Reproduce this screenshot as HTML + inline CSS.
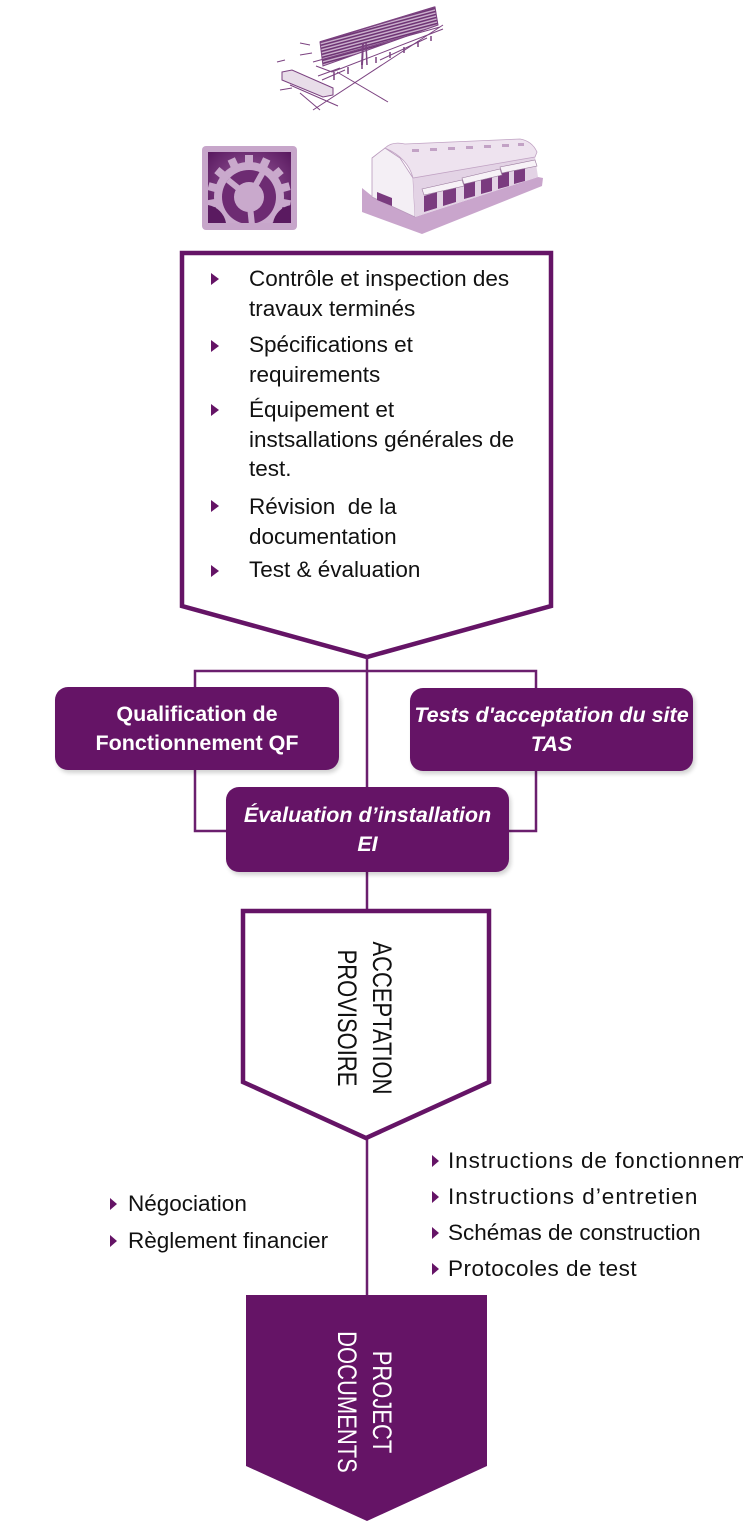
<!DOCTYPE html>
<html><head><meta charset="utf-8">
<style>
html,body{margin:0;padding:0;background:#fff;}
body{width:743px;height:1524px;position:relative;overflow:hidden;font-family:"Liberation Sans",sans-serif;}
svg.bg{position:absolute;left:0;top:0;}
.t{position:absolute;font-size:22.5px;line-height:30px;color:#111;white-space:nowrap;}
.clip{position:absolute;left:448px;top:1146px;width:295px;height:32px;overflow:hidden;}
.clip .t{left:0;top:0;}
.box{position:absolute;background:#651466;border-radius:13px;color:#fff;font-weight:bold;font-size:21.5px;line-height:29px;text-align:center;display:flex;align-items:center;justify-content:center;box-shadow:2px 3px 4px rgba(0,0,0,0.18);white-space:nowrap;}
.box.i{font-style:italic;}
</style></head><body>
<svg class="bg" width="743" height="1524" viewBox="0 0 743 1524" xmlns="http://www.w3.org/2000/svg">
<defs>
<radialGradient id="gbg" cx="50%" cy="45%" r="65%">
<stop offset="0" stop-color="#9a5d9e"/><stop offset="1" stop-color="#5a1a60"/>
</radialGradient>
<clipPath id="gclip"><rect x="208" y="152" width="83" height="71"/></clipPath>
<pattern id="hatch" width="3" height="3" patternUnits="userSpaceOnUse" patternTransform="rotate(75)">
<rect width="3" height="3" fill="#cdb3cf"/><rect width="1.6" height="3" fill="#6e3474"/>
</pattern>
</defs>

<!-- solar tracker sketch -->
<g stroke="#7b4280" stroke-width="1" fill="none">
<polygon points="320,42 435,7 438,25 323,66" fill="url(#hatch)"/>
<line x1="320" y1="42" x2="435" y2="7" stroke-width="1.5"/>
<line x1="313" y1="62" x2="440" y2="27"/>
<line x1="332" y1="72" x2="443" y2="29"/>
<line x1="316" y1="66" x2="332" y2="72"/>
<line x1="313" y1="110" x2="443" y2="25"/>
<line x1="337" y1="72" x2="388" y2="102"/>
<line x1="380" y1="60" x2="427" y2="38"/>
<line x1="300" y1="43" x2="310" y2="45"/>
<line x1="300" y1="55" x2="312" y2="53"/>
<line x1="277" y1="62" x2="285" y2="60"/>
<line x1="280" y1="90" x2="292" y2="88"/>
<polygon points="282,72 292,70 333,88 333,95 323,97 282,80" fill="#e8dde9"/>
<line x1="290" y1="85" x2="338" y2="106"/>
<line x1="300" y1="93" x2="320" y2="110"/>
<line x1="318" y1="76" x2="340" y2="68"/>
<line x1="322" y1="80" x2="345" y2="70"/>
<g stroke-width="1.5">
<line x1="334" y1="72" x2="334" y2="80"/>
<line x1="348" y1="67" x2="348" y2="74"/>
<line x1="362" y1="62" x2="362" y2="69"/>
<line x1="376" y1="57" x2="376" y2="63"/>
<line x1="390" y1="52" x2="390" y2="58"/>
<line x1="404" y1="47" x2="404" y2="53"/>
<line x1="418" y1="41" x2="418" y2="47"/>
<line x1="431" y1="36" x2="431" y2="41"/>
</g>
<line x1="363" y1="43" x2="362" y2="65" stroke-width="2"/>
<line x1="366" y1="43" x2="367" y2="65" stroke-width="1.5"/>
</g>

<!-- gear icon -->
<rect x="202" y="146" width="95" height="84" rx="4" fill="#c7a6ca"/>
<rect x="208" y="152" width="83" height="71" fill="url(#gbg)"/>
<g clip-path="url(#gclip)">
<g fill="#c9a9cc">
<circle cx="249" cy="197" r="35"/>
<g transform="translate(249,197)">
<rect x="-4" y="-42" width="8" height="10" transform="rotate(0)"/>
<rect x="-4" y="-42" width="8" height="10" transform="rotate(25)"/>
<rect x="-4" y="-42" width="8" height="10" transform="rotate(50)"/>
<rect x="-4" y="-42" width="8" height="10" transform="rotate(75)"/>
<rect x="-4" y="-42" width="8" height="10" transform="rotate(100)"/>
<rect x="-4" y="-42" width="8" height="10" transform="rotate(125)"/>
<rect x="-4" y="-42" width="8" height="10" transform="rotate(-25)"/>
<rect x="-4" y="-42" width="8" height="10" transform="rotate(-50)"/>
<rect x="-4" y="-42" width="8" height="10" transform="rotate(-75)"/>
<rect x="-4" y="-42" width="8" height="10" transform="rotate(-100)"/>
<rect x="-4" y="-42" width="8" height="10" transform="rotate(-125)"/>
</g>
</g>
<circle cx="249" cy="197" r="27" fill="#6d2b72"/>
<g stroke="#c9a9cc" stroke-width="6">
<line x1="249" y1="197" x2="228" y2="180"/>
<line x1="249" y1="197" x2="263" y2="172"/>
<line x1="249" y1="197" x2="252" y2="225"/>
</g>
<circle cx="249" cy="197" r="15" fill="#c9a9cc"/>
<path d="M208,223 L208,205 A22,22 0 0 1 226,223 Z" fill="#5a1a60"/>
<path d="M291,223 L291,205 A22,22 0 0 0 273,223 Z" fill="#5a1a60"/>
</g>

<!-- building -->
<polygon points="362,188 372,196 415,217 538,177 543,178 542,186 422,234 362,212" fill="#c9a5cc"/>
<polygon points="372,158 385,148 400,158 413,178 415,217 372,197" fill="#f4eff5" stroke="#b898bb" stroke-width="0.8"/>
<polygon points="413,178 535,157 538,177 415,217" fill="#e3d3e5"/>
<path d="M385,148 Q392,141 405,144 L520,139 Q532,141 537,152 L535,157 L413,178 Q408,158 385,148 Z" fill="#eee3ef" stroke="#c0a2c3" stroke-width="0.8"/>
<g fill="#c2a2c5">
<rect x="412" y="149" width="7" height="3"/><rect x="430" y="148" width="7" height="3"/><rect x="448" y="147" width="7" height="3"/><rect x="466" y="146" width="7" height="3"/><rect x="484" y="145" width="7" height="3"/><rect x="502" y="144" width="7" height="3"/><rect x="518" y="143" width="6" height="3"/>
</g>
<g fill="#7a3b7f">
<polygon points="424,196 437,192 437,208 424,212"/>
<polygon points="443,190 456,187 456,202 443,206"/>
<polygon points="464,184 475,181 475,196 464,199"/>
<polygon points="481,179 492,176 492,191 481,194"/>
<polygon points="498,174 509,171 509,186 498,189"/>
<polygon points="514,169 525,166 525,181 514,184"/>
<polygon points="377,192 392,198 392,206 377,200"/>
</g>
<g fill="#f7f2f7" stroke="#9a7a9d" stroke-width="0.6">
<polygon points="422,189 462,180 464,186 424,195"/>
<polygon points="462,178 500,169 502,175 464,184"/>
<polygon points="500,167 535,160 537,166 502,173"/>
</g>

<!-- top pentagon -->
<polygon points="182,253 551,253 551,606 367,657 182,606" fill="#fff" stroke="#651466" stroke-width="4.5" stroke-linejoin="miter"/>
<g fill="#651466">
<polygon points="211,273 219,279 211,285"/>
<polygon points="211,340 219,346 211,352"/>
<polygon points="211,404 219,410 211,416"/>
<polygon points="211,500 219,506 211,512"/>
<polygon points="211,565 219,571 211,577"/>
</g>

<!-- connectors -->
<g stroke="#6b1f6e" stroke-width="2.5" fill="none">
<line x1="367" y1="657" x2="367" y2="790"/>
<polyline points="195,690 195,671 536,671 536,690"/>
<polyline points="195,768 195,831 228,831"/>
<polyline points="536,768 536,831 505,831"/>
<line x1="367" y1="870" x2="367" y2="912"/>
<line x1="367" y1="1138" x2="367" y2="1296"/>
</g>

<!-- acceptance pentagon -->
<polygon points="243,911 489,911 489,1082 366,1138 243,1082" fill="#fff" stroke="#651466" stroke-width="4.5"/>
<g font-family="Liberation Sans, sans-serif" font-size="22" fill="#111" text-anchor="middle">
<text transform="translate(373,1018) rotate(90) scale(1,1.22)">ACCEPTATION</text>
<text transform="translate(338,1018) rotate(90) scale(1,1.22)">PROVISOIRE</text>
</g>

<!-- bottom bullets -->
<g fill="#651466">
<polygon points="110,1198 117,1204 110,1210"/>
<polygon points="110,1235 117,1241 110,1247"/>
<polygon points="432,1155 439,1161 432,1167"/>
<polygon points="432,1191 439,1197 432,1203"/>
<polygon points="432,1227 439,1233 432,1239"/>
<polygon points="432,1263 439,1269 432,1275"/>
</g>

<!-- project documents -->
<polygon points="246,1295 487,1295 487,1466 367,1521 246,1466" fill="#651466"/>
<g font-family="Liberation Sans, sans-serif" font-size="22" fill="#fff" text-anchor="middle">
<text transform="translate(373,1402) rotate(90) scale(1,1.22)">PROJECT</text>
<text transform="translate(338,1402) rotate(90) scale(1,1.22)">DOCUMENTS</text>
</g>
</svg>

<!-- top box text -->
<div class="t" style="left:249px;top:264px;">Contrôle et inspection des</div>
<div class="t" style="left:249px;top:294px;">travaux terminés</div>
<div class="t" style="left:249px;top:330px;">Spécifications et</div>
<div class="t" style="left:249px;top:360px;">requirements</div>
<div class="t" style="left:249px;top:395px;">Équipement et</div>
<div class="t" style="left:249px;top:425px;">instsallations générales de</div>
<div class="t" style="left:249px;top:454px;">test.</div>
<div class="t" style="left:249px;top:492px;">Révision&nbsp; de la</div>
<div class="t" style="left:249px;top:522px;">documentation</div>
<div class="t" style="left:249px;top:555px;">Test &amp; évaluation</div>

<!-- boxes -->
<div class="box" style="left:55px;top:687px;width:284px;height:83px;">Qualification de<br>Fonctionnement QF</div>
<div class="box i" style="left:410px;top:688px;width:283px;height:83px;">Tests d'acceptation du site<br>TAS</div>
<div class="box i" style="left:226px;top:787px;width:283px;height:85px;">Évaluation d’installation<br>EI</div>

<!-- bottom texts -->
<div class="t" style="left:128px;top:1189px;">Négociation</div>
<div class="t" style="left:128px;top:1226px;">Règlement financier</div>
<div class="clip"><div class="t" style="letter-spacing:0.9px;">Instructions de fonctionnement</div></div>
<div class="t" style="left:448px;top:1182px;letter-spacing:1px;">Instructions d’entretien</div>
<div class="t" style="left:448px;top:1218px;">Schémas de construction</div>
<div class="t" style="left:448px;top:1254px;letter-spacing:0.5px;">Protocoles de test</div>
</body></html>
